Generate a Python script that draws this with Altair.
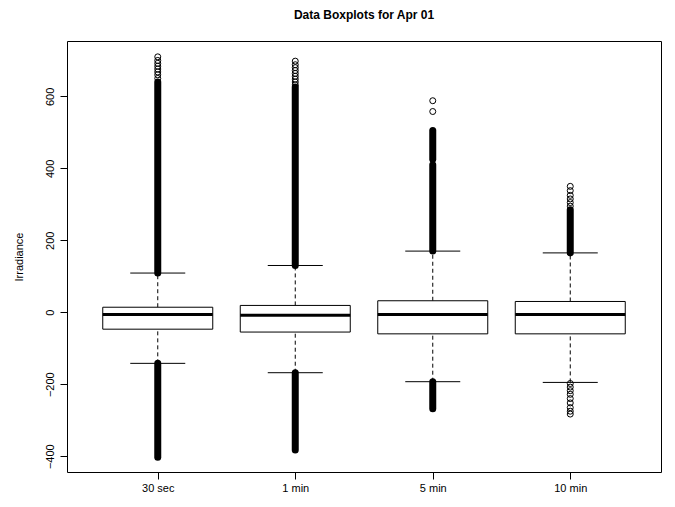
import altair as alt
import pandas as pd

# ---- data ----
groups = ["30 sec", "1 min", "5 min", "10 min"]
group_pos = [1, 2, 3, 4]
q1 = [-47, -55, -60, -60]
median = [-6, -8, -6, -6]
q3 = [14, 19, 32, 30]
whisker_lo = [-142, -168, -193, -195]
whisker_hi = [109, 130, 170, 165]

# dense stretches of overlapping outliers (drawn as a solid column)
run_group = [1, 1, 2, 2, 3, 3, 3, 4]
run_lo = [-403, 109, -383, 130, -268, 170, 425, 165]
run_hi = [-142, 640, -168, 626, -193, 410, 505, 285]

# separately visible outlier circles
pt_group = ([1] * 8 + [2] * 9 + [3] * 2 + [4] * 6 + [4] * 9)
pt_value = ([650, 660, 668, 676, 684, 692, 700, 710]
            + [632, 640, 648, 656, 664, 672, 680, 688, 698]
            + [558, 588]
            + [295, 305, 315, 325, 338, 350]
            + [-198, -208, -218, -228, -240, -252, -265, -275, -283])

box_half = 0.4
staple_half = 0.2

boxes = pd.DataFrame({
    "group": groups, "pos": group_pos, "q1": q1, "med": median, "q3": q3,
    "lo": whisker_lo, "hi": whisker_hi,
})
boxes["x_lo"] = boxes["pos"] - box_half
boxes["x_hi"] = boxes["pos"] + box_half
boxes["s_lo"] = boxes["pos"] - staple_half
boxes["s_hi"] = boxes["pos"] + staple_half

runs = pd.DataFrame({"pos": run_group, "lo": run_lo, "hi": run_hi})
pts = pd.DataFrame({"pos": pt_group, "value": pt_value})

FONT = "Liberation Sans"
xscale = alt.Scale(domain=[0.34, 4.66], nice=False, zero=False)
yscale = alt.Scale(domain=[-444, 754], nice=False, zero=False)
label_expr = "datum.value == 1 ? '30 sec' : datum.value == 2 ? '1 min' : datum.value == 3 ? '5 min' : '10 min'"
xaxis = alt.Axis(values=[1, 2, 3, 4], labelExpr=label_expr, title=None, grid=False,
                 domain=False, ticks=True, tickSize=7, tickColor="black",
                 labelFont=FONT, labelFontSize=11, labelColor="black", labelPadding=3)
yaxis = alt.Axis(values=[-400, -200, 0, 200, 400, 600], title="Irradiance", grid=False,
                 domain=False, ticks=True, tickSize=7, tickColor="black",
                 labelFont=FONT, labelFontSize=11, labelColor="black",
                 labelAngle=270, labelAlign="center", labelBaseline="bottom",
                 labelPadding=5, titleFont=FONT, titleFontSize=11,
                 titleFontWeight="normal", titleColor="black", titlePadding=20)


def X(field):
    return alt.X(field, type="quantitative", scale=xscale, axis=xaxis)


def Y(field):
    return alt.Y(field, type="quantitative", scale=yscale, axis=yaxis)


base_b = alt.Chart(boxes)

whisk_up = base_b.mark_rule(color="black", strokeWidth=1, strokeDash=[4, 3]).encode(
    x=X("pos"), y=Y("q3"), y2="hi")
whisk_dn = base_b.mark_rule(color="black", strokeWidth=1, strokeDash=[4, 3]).encode(
    x=X("pos"), y=Y("lo"), y2="q1")
staple_up = base_b.mark_rule(color="black", strokeWidth=1).encode(
    x=X("s_lo"), x2="s_hi", y=Y("hi"))
staple_dn = base_b.mark_rule(color="black", strokeWidth=1).encode(
    x=X("s_lo"), x2="s_hi", y=Y("lo"))
box = base_b.mark_rect(fill="white", stroke="black", strokeWidth=1).encode(
    x=X("x_lo"), x2="x_hi", y=Y("q1"), y2="q3")
med = base_b.mark_rule(color="black", strokeWidth=3).encode(
    x=X("x_lo"), x2="x_hi", y=Y("med"))

run_layer = alt.Chart(runs).mark_rule(color="black", strokeWidth=7, strokeCap="round").encode(
    x=X("pos"), y=Y("lo"), y2="hi")
pt_layer = alt.Chart(pts).mark_point(shape="circle", filled=False, color="black",
                                     size=36, strokeWidth=1, opacity=1).encode(
    x=X("pos"), y=Y("value"))

chart = alt.layer(
    whisk_up, whisk_dn, staple_up, staple_dn, run_layer, pt_layer, box, med
).properties(
    width=594, height=431,
    title=alt.TitleParams("Data Boxplots for Apr 01", font=FONT, fontSize=12,
                          fontWeight="bold", color="black", anchor="middle",
                          frame="group", offset=19),
    autosize=alt.AutoSizeParams(type="none"),
    padding={"left": 59, "top": 33, "right": 6, "bottom": 27},
).configure(
    background="white",
    view=alt.ViewConfig(stroke="black", strokeWidth=1),
)

chart.save("out.html", embed_options={"renderer": "svg", "actions": False})
